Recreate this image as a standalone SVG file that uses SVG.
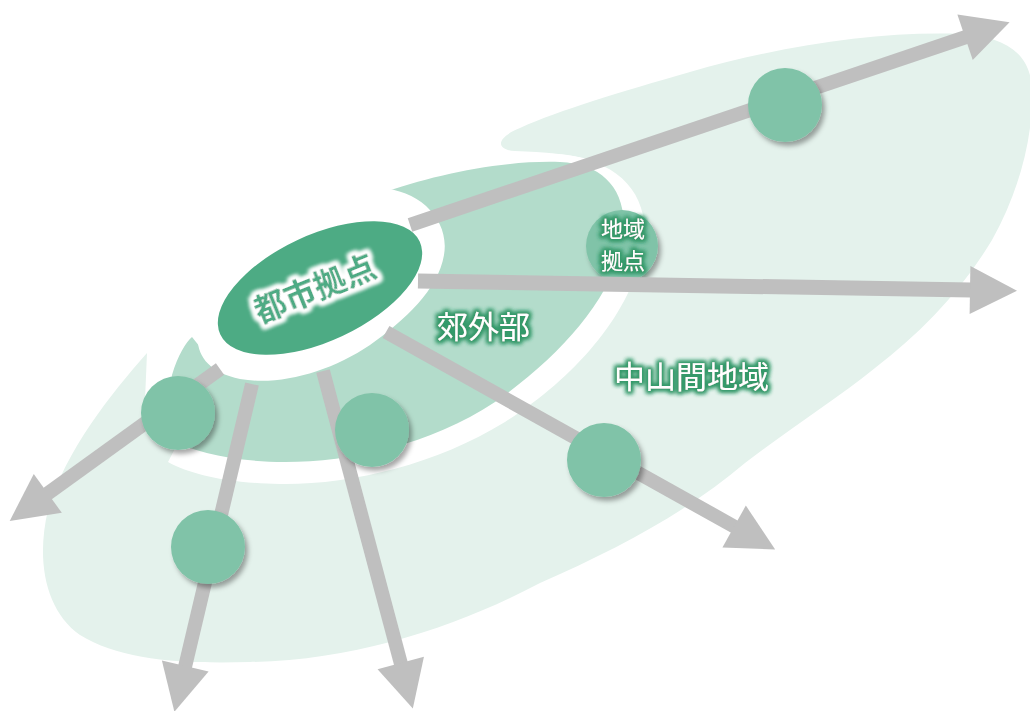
<svg xmlns="http://www.w3.org/2000/svg" width="1030" height="711" viewBox="0 0 1030 711">
  <defs>
    <style>
      .zone-outer { fill: #e4f2ec; }
      .zone-band { fill: #ffffff; }
      .zone-inner { fill: #b3dccb; }
      .halo { fill: #ffffff; }
      .route { fill: none; stroke: #bfbfbf; stroke-width: 14; stroke-linecap: butt; marker-end: url(#head); }
      .hub { fill: #4dab84; }
      .node { fill: #80c3a8; filter: url(#shadow); }
      .lbl { font-family: "Noto Sans CJK JP", "Noto Sans CJK SC", sans-serif; }
      .lbl-white { fill: #ffffff; filter: url(#glowGreen); }
      .lbl-green { fill: #4dab84; font-weight: bold; filter: url(#glowWhite); }
    </style>
    <marker id="head" markerUnits="userSpaceOnUse" viewBox="0 0 47 48" markerWidth="47" markerHeight="48" refX="1" refY="24" orient="auto" overflow="visible">
      <path d="M0,0 L47,24 L0,48 Z" fill="#bfbfbf"/>
    </marker>
    <filter id="shadow" x="-30%" y="-30%" width="170%" height="170%">
      <feDropShadow dx="3" dy="4" stdDeviation="2.5" flood-color="#000000" flood-opacity="0.35"/>
    </filter>
    <filter id="glowGreen" x="-20%" y="-40%" width="140%" height="180%">
      <feMorphology in="SourceAlpha" operator="dilate" radius="2" result="d"/>
      <feGaussianBlur in="d" stdDeviation="2" result="b"/>
      <feFlood flood-color="#35996a"/>
      <feComposite in2="b" operator="in" result="g"/>
      <feMerge><feMergeNode in="g"/><feMergeNode in="g"/><feMergeNode in="SourceGraphic"/></feMerge>
    </filter>
    <filter id="glowWhite" x="-20%" y="-40%" width="140%" height="180%">
      <feMorphology in="SourceAlpha" operator="dilate" radius="2.5" result="d"/>
      <feGaussianBlur in="d" stdDeviation="2.2" result="b"/>
      <feFlood flood-color="#ffffff"/>
      <feComposite in2="b" operator="in" result="g"/>
      <feMerge><feMergeNode in="g"/><feMergeNode in="g"/><feMergeNode in="g"/><feMergeNode in="SourceGraphic"/></feMerge>
    </filter>
  </defs>

  <rect width="1030" height="711" fill="#ffffff"/>

  <!-- mountain zone (outer) -->
  <path id="zone-mountain" class="zone-outer" d="M147,353 C110,395 66,450 48,510 C36,560 45,610 80,635 C120,660 180,664 250,662 C360,660 460,625 540,583 C620,548 690,510 745,463 C795,425 835,400 875,368 C922,332 962,290 992,240 C1020,190 1036,130 1031,80 C1026,50 1000,36 960,34 C880,31 780,46 690,72 C620,92 560,110 520,128 C495,138 496,150 515,151 C545,152 570,154 592,160 L560,300 L300,420 L175,445 L145,400 Z"/>

  <!-- white band between zones -->
  <path class="zone-band" d="M470,165 C560,138 632,160 643,215 C652,290 585,372 505,422 C435,465 350,485 280,484 C225,483 190,474 168,462 L200,400 L400,250 Z"/>

  <!-- suburban zone (inner) -->
  <path id="zone-suburb" class="zone-inner" d="M382,193 C430,176 500,160 560,162 C600,164 622,185 624,222 C626,280 570,350 495,402 C430,445 350,462 285,462 C235,462 195,452 170,440 L168,400 L172,375 C178,355 186,342 192,337 L200,347 L212,368 L300,300 Z"/>

  <!-- white halo around the urban hub -->
  <path class="halo" d="M380,188 C420,190 450,220 444,255 C438,290 405,320 370,345 C330,372 280,386 240,379 C205,372 192,350 200,325 C210,290 250,250 300,220 C330,200 355,188 380,188 Z"/>

  <!-- regional hub -->
  <g id="node-regional-hub">
    <circle class="node" cx="622" cy="246" r="36"/>
    <text class="lbl lbl-white" x="623" y="237" font-size="22" text-anchor="middle">地域</text>
    <text class="lbl lbl-white" x="623" y="269" font-size="22" text-anchor="middle">拠点</text>
  </g>

  <!-- radial routes -->
  <g id="connectors">
    <line class="route" x1="410" y1="225" x2="966" y2="37"/>
    <line class="route" x1="418" y1="281" x2="971" y2="290" style="stroke-width:15"/>
    <line class="route" x1="220" y1="369" x2="47" y2="494"/>
    <line class="route" x1="252" y1="384" x2="185" y2="667"/>
    <line class="route" x1="323" y1="371" x2="401" y2="664"/>
    <line class="route" x1="386" y1="332" x2="735" y2="527"/>
  </g>

  <!-- urban hub -->
  <g id="node-urban-hub">
    <ellipse class="hub" cx="320" cy="288" rx="110" ry="53" transform="rotate(-25 320 288)"/>
    <g transform="translate(315,289) rotate(-22)">
      <text class="lbl lbl-green" x="0" y="11" font-size="32" text-anchor="middle">都市拠点</text>
    </g>
  </g>

  <!-- local nodes -->
  <g id="node-ne"><circle class="node" cx="785" cy="105" r="37"/></g>
  <g id="node-se"><circle class="node" cx="604" cy="460" r="37"/></g>
  <g id="node-w"><circle class="node" cx="178" cy="413" r="37"/></g>
  <g id="node-sw"><circle class="node" cx="208" cy="547" r="37"/></g>
  <g id="node-s"><circle class="node" cx="372" cy="430" r="37"/></g>

  <!-- zone labels -->
  <g id="label-suburb">
    <text class="lbl lbl-white" x="437" y="338" font-size="31">郊外部</text>
  </g>
  <g id="label-mountain">
    <text class="lbl lbl-white" x="614" y="388" font-size="31">中山間地域</text>
  </g>
</svg>
